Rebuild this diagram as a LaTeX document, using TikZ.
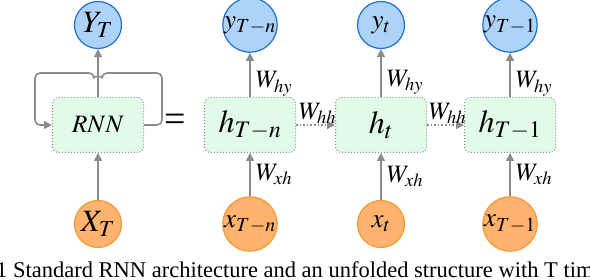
\documentclass[tikz,border=0pt]{standalone}
\usepackage{mathptmx}
\usepackage[no-math]{fontspec}
\setmainfont{Liberation Serif}
\usetikzlibrary{arrows.meta}
\definecolor{yfill}{HTML}{AED3F8}
\definecolor{yline}{HTML}{1F6FCF}
\definecolor{xfill}{HTML}{FFB36E}
\definecolor{xline}{HTML}{F39A32}
\definecolor{cellfill}{HTML}{E2FBE8}
\definecolor{arrowgray}{HTML}{8C8C8C}
\tikzset{
  outnode/.style={circle, draw=yline, fill=yfill, line width=1.2pt, minimum size=47pt, inner sep=0pt, font=\fontsize{27}{27}\selectfont},
  innode/.style={circle, draw=xline, fill=xfill, line width=1.2pt, minimum size=47pt, inner sep=0pt, font=\fontsize{27}{27}\selectfont},
  cell/.style={draw=arrowgray, dotted, line width=1pt, rounded corners=6pt, fill=cellfill, minimum width=91pt, minimum height=55pt, inner sep=0pt, font=\fontsize{32}{32}\selectfont},
  flow/.style={draw=arrowgray, line width=1.6pt, -{Triangle[length=8pt,width=8pt]}},
  wlab/.style={font=\fontsize{25}{25}\selectfont, inner sep=2pt}
}
\begin{document}
\begin{tikzpicture}[x=1pt, y=-1pt, line join=round]
\useasboundingbox (0,0) rectangle (590,280);
\clip (0,0) rectangle (590,280);
% folded network
\node[outnode, font=\fontsize{31}{31}\selectfont] (YT) at (98,25) {$Y_T$};
\node[cell, font=\fontsize{25}{25}\selectfont] (rnn) at (98,125) {$RNN$};
\node[innode, font=\fontsize{31}{31}\selectfont] (XT) at (98,224) {$X_T$};
\draw[flow] (rnn.north) -- (YT.south);
\draw[flow] (XT.north) -- (rnn.south);
\draw[flow, rounded corners=5pt] (rnn.east) -| (162,73) -- (102,73) arc[start angle=0, end angle=180, radius=4] -- (35,73) |- (rnn.west);
\node[font=\fontsize{38}{38}\selectfont, inner sep=0pt] (eq) at (175,123) {=};
% unfolded network
\foreach \n/\x/\s in {a/250/{T-n}, b/381/t, c/510/{T-1}} {
  \node[outnode] (y\n) at (\x,25) {$y_{\s}$};
  \node[cell] (h\n) at (\x,125) {$h_{\s}$};
  \node[innode] (x\n) at (\x,224) {$x_{\s}$};
  \draw[flow] (h\n.north) -- (y\n.south) node[wlab, pos=0.3, right, xshift=3pt] {$W_{hy}$};
  \draw[flow] (x\n.north) -- (h\n.south) node[wlab, midway, right, xshift=3pt] {$W_{xh}$};
}
\foreach \p/\q in {a/b, b/c}
  \draw[flow, dotted] (h\p.east) -- (h\q.west) node[wlab, midway, above, inner sep=0pt, xshift=2pt] {$W_{hh}$};
\node[anchor=base west, inner sep=0pt, font=\fontsize{22.5}{22.5}\selectfont] (caption) at (-4,277.5) {1 Standard RNN architecture and an unfolded structure with T time};
\end{tikzpicture}
\end{document}
